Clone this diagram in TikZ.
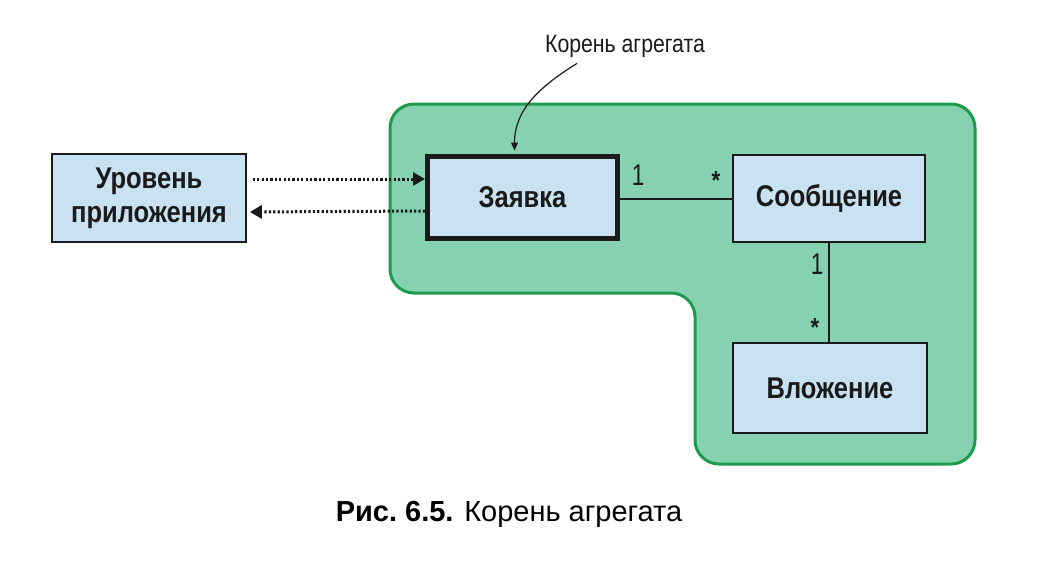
\documentclass[tikz,border=0pt]{standalone}
\usepackage{fontspec}
\setmainfont{Liberation Sans}
\newfontfamily\condfont[FakeStretch=0.85]{Liberation Sans}
\newfontfamily\narrowfont[FakeStretch=0.75]{Liberation Sans}
\usetikzlibrary{arrows.meta}
\definecolor{aggfill}{HTML}{86D2B0}
\definecolor{aggline}{HTML}{1E9A4C}
\definecolor{boxfill}{HTML}{C8E2F2}
\definecolor{ink}{HTML}{1A1A1A}
\begin{document}
\begin{tikzpicture}[x=1pt,y=-1pt,
  entity/.style={draw=ink, line width=1.6pt, fill=boxfill, inner sep=0pt,
    align=center, text=ink, font=\condfont\bfseries\fontsize{30}{36}\selectfont},
  rootbox/.style={entity, line width=5pt},
  mult/.style={text=ink, inner sep=0pt, font=\narrowfont\fontsize{30}{32}\selectfont},
  assoc/.style={draw=ink, line width=1.8pt},
  dotlink/.style={draw=ink, line width=3pt, dash pattern=on 2.2pt off 2.2pt,
    -{Triangle[length=12pt,width=13pt,fill=ink]}},
  callout/.style={draw=ink, line width=1.2pt, -{Triangle[length=8pt,width=7pt]}},
  note/.style={text=ink, inner sep=0pt, font=\condfont\fontsize{25}{28}\selectfont}]
  \useasboundingbox (0,0) rectangle (1052,560);
  \fill[white] (0,0) rectangle (1052,560);

  % aggregate boundary
  \draw[fill=aggfill, draw=aggline, line width=3pt, rounded corners=24pt]
    (390,104) -- (975,104) -- (975,464) -- (695,464) -- (695,293) -- (390,293) -- cycle;

  % entities
  \node[entity, minimum width=194pt, minimum height=88pt] (app) at (149,198)
    {Уровень\\[-2pt]приложения};
  \node[rootbox, minimum width=190pt, minimum height=82pt] (zay) at (522.5,197) {Заявка};
  \node[entity, minimum width=192pt, minimum height=87pt] (msg) at (829,198.5) {Сообщение};
  \node[entity, minimum width=194pt, minimum height=90pt] (att) at (830,388) {Вложение};

  % associations
  \draw[assoc] (zay.east |- 0,199) -- (msg.west |- 0,199);
  \draw[assoc] (msg.south -| 829,0) -- (att.north -| 829,0);
  \node[mult] (m1) at (638,175) {1};
  \node[mult, font=\condfont\bfseries\fontsize{26}{28}\selectfont] (m2) at (716,181) {*};
  \node[mult] (m3) at (817,264) {1};
  \node[mult, font=\condfont\bfseries\fontsize{26}{28}\selectfont] (m4) at (815,328) {*};

  % calls between the application layer and the root
  \draw[dotlink] ([xshift=6pt,yshift=19pt]app.east) -- ([yshift=18pt]zay.west);
  \draw[dotlink] ([yshift=-14pt]zay.west) -- ([xshift=3pt,yshift=-14pt]app.east);

  % callout
  \node[note] (lbl) at (625,46) {Корень агрегата};
  \draw[callout] ([xshift=-48pt,yshift=-6pt]lbl.south) to[out=212,in=90]
    ([xshift=-8pt,yshift=3pt]zay.north);

  % caption
  \node[text=black, inner sep=0pt, font=\fontsize{29}{32}\selectfont] (cap) at (509,514)
    {\textbf{Рис.\ 6.5.} Корень агрегата};
\end{tikzpicture}
\end{document}
